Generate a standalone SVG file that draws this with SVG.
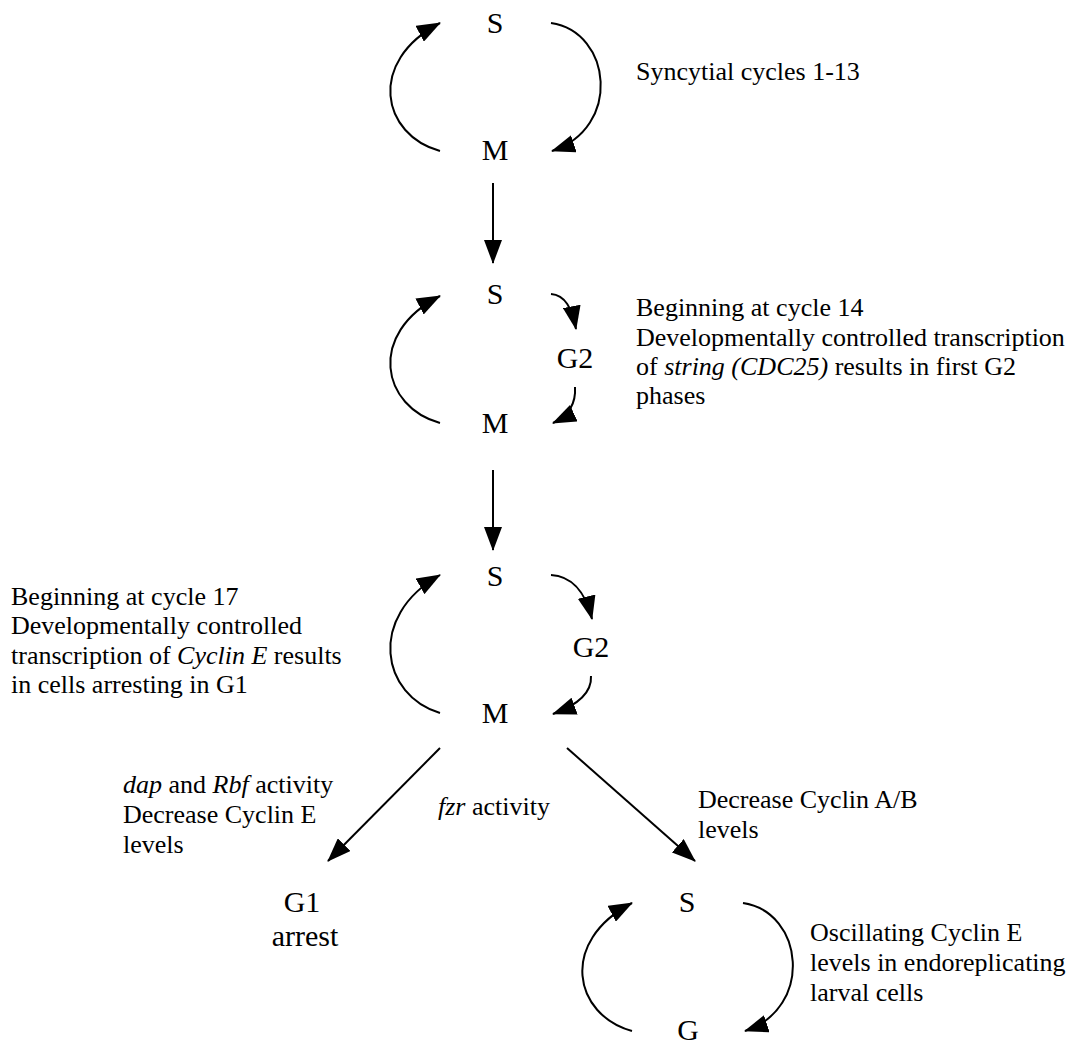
<svg xmlns="http://www.w3.org/2000/svg" width="1081" height="1044" viewBox="0 0 1081 1044">
<style>
text{font-family:"Liberation Serif","Times New Roman",serif;fill:#000}
.lbl{font-size:30px;text-anchor:middle}
.txt{font-size:26px}
.c path,.c line{fill:none;stroke:#000;stroke-width:2}
</style>
<defs>
<marker id="ah" markerUnits="userSpaceOnUse" markerWidth="24" markerHeight="18" viewBox="0 0 24 18" refX="23" refY="9" orient="auto">
<path d="M0,0 L24,9 L0,18 z" fill="#000"/>
</marker>
</defs>
<rect width="1081" height="1044" fill="#fff"/>
<g id="connectors" class="c">
<path d="M440,151 C382,135 366,62 440,23" marker-end="url(#ah)"/>
<path d="M551,23 C612,32 622,128 552,151" marker-end="url(#ah)"/>
<line x1="493" y1="183" x2="493" y2="263" marker-end="url(#ah)"/>
<path d="M440,423 C382,407 366,334 440,296" marker-end="url(#ah)"/>
<path d="M551,294 C565,295 572,308 576,329" marker-end="url(#ah)"/>
<path d="M575,387 C576,402 570,415 553,423" marker-end="url(#ah)"/>
<line x1="493" y1="470" x2="493" y2="550" marker-end="url(#ah)"/>
<path d="M440,713 C382,696 366,617 440,575" marker-end="url(#ah)"/>
<path d="M551,575 C570,576 585,590 592,619" marker-end="url(#ah)"/>
<path d="M591,676 C592,694 575,706 553,714" marker-end="url(#ah)"/>
<line x1="440" y1="748" x2="328" y2="861" marker-end="url(#ah)"/>
<line x1="567" y1="748" x2="695" y2="861" marker-end="url(#ah)"/>
<path d="M632,1031 C574,1015 558,942 632,903" marker-end="url(#ah)"/>
<path d="M743,903 C804,912 814,1008 745,1031" marker-end="url(#ah)"/>
</g>
<g id="cycle1">
<text class="lbl" x="495" y="33">S</text>
<text class="lbl" x="495" y="160">M</text>
</g>
<g id="note1"><text class="txt" x="636" y="80">Syncytial cycles 1-13</text></g>
<g id="cycle2">
<text class="lbl" x="495" y="304">S</text>
<text class="lbl" x="575" y="368">G2</text>
<text class="lbl" x="495" y="433">M</text>
</g>
<g id="note2">
<text class="txt" x="636" y="316">Beginning at cycle 14</text>
<text class="txt" x="636" y="346">Developmentally controlled transcription</text>
<text class="txt" x="636" y="375">of <tspan font-style="italic">string (CDC25)</tspan> results in first G2</text>
<text class="txt" x="636" y="404">phases</text>
</g>
<g id="cycle3">
<text class="lbl" x="495" y="586">S</text>
<text class="lbl" x="591" y="657">G2</text>
<text class="lbl" x="495" y="723">M</text>
</g>
<g id="note3">
<text class="txt" x="11" y="605">Beginning at cycle 17</text>
<text class="txt" x="11" y="634">Developmentally controlled</text>
<text class="txt" x="11" y="664">transcription of <tspan font-style="italic">Cyclin E</tspan> results</text>
<text class="txt" x="11" y="693">in cells arresting in G1</text>
</g>
<g id="note-dap">
<text class="txt" x="123" y="793"><tspan font-style="italic">dap</tspan> and <tspan font-style="italic">Rbf</tspan> activity</text>
<text class="txt" x="123" y="823">Decrease Cyclin E</text>
<text class="txt" x="123" y="853">levels</text>
</g>
<g id="note-fzr"><text class="txt" x="438" y="815"><tspan font-style="italic">fzr</tspan> activity</text></g>
<g id="note-ab">
<text class="txt" x="698" y="808">Decrease Cyclin A/B</text>
<text class="txt" x="698" y="838">levels</text>
</g>
<g id="g1arrest">
<text class="lbl" x="302" y="912">G1</text>
<text class="lbl" x="305" y="946">arrest</text>
</g>
<g id="cycle4">
<text class="lbl" x="687" y="912">S</text>
<text class="lbl" x="688" y="1040">G</text>
</g>
<g id="note4">
<text class="txt" x="810" y="941">Oscillating Cyclin E</text>
<text class="txt" x="810" y="971">levels in endoreplicating</text>
<text class="txt" x="810" y="1001">larval cells</text>
</g>
</svg>
